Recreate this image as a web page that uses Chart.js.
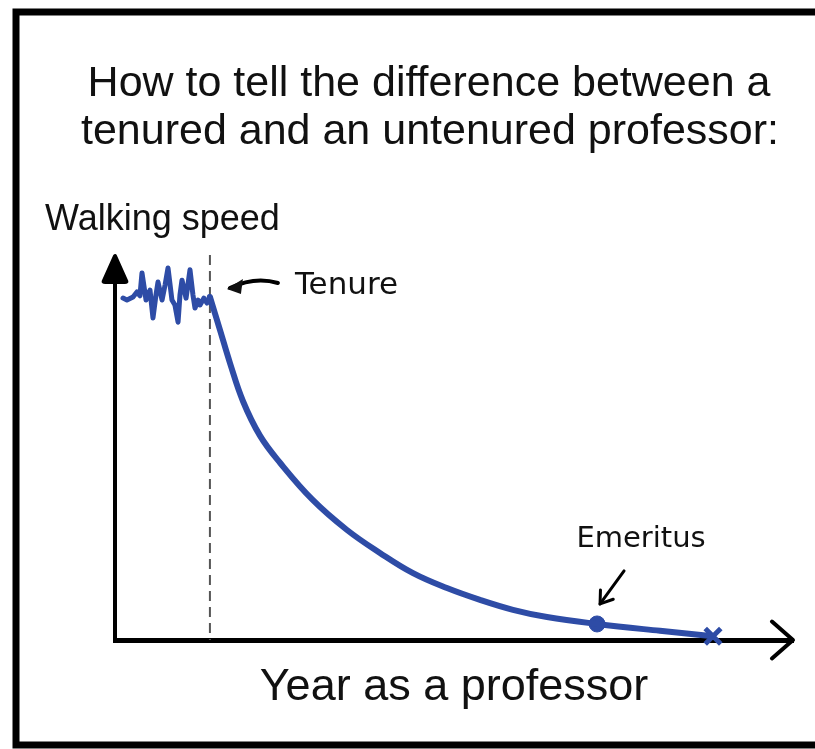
<!DOCTYPE html>
<html>
<head>
<meta charset="utf-8">
<title>Tenured vs untenured</title>
<script src="https://cdn.jsdelivr.net/npm/chart.js@4.4.1/dist/chart.umd.min.js"></script>
<style>
  html, body { margin: 0; padding: 0; background: #fff; }
  #wrap { width: 815px; height: 749px; position: relative; }
</style>
</head>
<body>
<div id="wrap"><canvas id="chart"></canvas></div>
<script>
// --- data (years, walking speed 0..10) ---
const tenureYear = 7;

const preTenureYears = [0.59, 0.88, 1.33, 1.62, 1.84, 1.99, 2.29, 2.58, 2.80, 3.02, 3.17, 3.47, 3.69, 3.91,
  4.20, 4.42, 4.65, 4.79, 4.94, 5.24, 5.53, 5.75, 5.90, 6.12, 6.27, 6.56, 6.78, 7.00];
const preTenureSpeed = [8.95, 8.90, 8.98, 9.11, 9.01, 9.61, 8.90, 9.16, 8.43, 9.03, 9.37, 8.90, 9.29, 9.74,
  8.90, 8.77, 8.32, 9.03, 9.42, 8.95, 9.69, 9.03, 8.69, 8.90, 8.77, 8.95, 8.82, 8.98];

const postTenureYears = [7.00, 7.74, 8.48, 9.44, 10.69, 12.17, 14.60, 17.11, 19.54, 21.98, 24.48, 26.92,
  29.35, 31.86, 35.55, 40.19, 44.10];
const postTenureSpeed = [8.98, 8.12, 7.25, 6.25, 5.35, 4.64, 3.66, 2.88, 2.28, 1.75, 1.36, 1.05,
  0.79, 0.60, 0.42, 0.24, 0.10];

const emeritusYear = 35.55;
const emeritusSpeed = 0.42;
const endYear = 44.10;
const endSpeed = 0.10;

const titleLines = ['How to tell the difference between a', 'tenured and an untenured professor:'];
const yLabel = 'Walking speed';
const xLabel = 'Year as a professor';

const blue = '#2e4ca6';

function toPoints(xs, ys) {
  return xs.map((x, i) => ({ x: x, y: ys[i] }));
}

function arrowHead(ctx, tipX, tipY, fromX, fromY, len, spread) {
  const ang = Math.atan2(tipY - fromY, tipX - fromX);
  ctx.beginPath();
  ctx.moveTo(tipX - len * Math.cos(ang - spread), tipY - len * Math.sin(ang - spread));
  ctx.lineTo(tipX, tipY);
  ctx.lineTo(tipX - len * Math.cos(ang + spread), tipY - len * Math.sin(ang + spread));
  ctx.stroke();
}

const decor = {
  id: 'decor',
  beforeDraw(chart) {
    const ctx = chart.ctx;
    ctx.save();
    ctx.fillStyle = '#fff';
    ctx.fillRect(0, 0, chart.width, chart.height);
    // comic frame (right edge cropped off)
    ctx.strokeStyle = '#000';
    ctx.lineWidth = 7;
    ctx.strokeRect(16, 12, 900, 733);
    ctx.restore();
  },
  beforeDatasetsDraw(chart) {
    const ctx = chart.ctx;
    const area = chart.chartArea;
    const xt = chart.scales.x.getPixelForValue(tenureYear);
    ctx.save();
    ctx.strokeStyle = '#555';
    ctx.lineWidth = 2;
    ctx.setLineDash([10, 6]);
    ctx.beginPath();
    ctx.moveTo(xt, area.top - 3);
    ctx.lineTo(xt, area.bottom);
    ctx.stroke();
    ctx.restore();
  },
  afterDraw(chart) {
    const ctx = chart.ctx;
    const area = chart.chartArea;
    const xs = chart.scales.x, ys = chart.scales.y;
    ctx.save();

    // axis arrows
    ctx.strokeStyle = '#000';
    ctx.fillStyle = '#000';
    ctx.lineWidth = 4;
    ctx.lineCap = 'round';
    ctx.lineJoin = 'round';
    ctx.beginPath();
    ctx.moveTo(area.left, area.top - 2);
    ctx.lineTo(area.left - 11, area.top + 26);
    ctx.lineTo(area.left + 11, area.top + 26);
    ctx.closePath();
    ctx.fill();
    arrowHead(ctx, area.left, area.top - 2, area.left, area.top + 40, 28, 0.42);
    arrowHead(ctx, area.right, area.bottom, area.left, area.bottom, 28, 0.72);

    // title
    ctx.fillStyle = '#111';
    ctx.textAlign = 'center';
    ctx.textBaseline = 'alphabetic';
    ctx.font = '43px "Liberation Sans", Arial, sans-serif';
    ctx.fillText(titleLines[0], 429, 96);
    ctx.fillText(titleLines[1], 430, 144);

    // axis labels
    ctx.font = '36px "Liberation Sans", Arial, sans-serif';
    ctx.textAlign = 'left';
    ctx.fillText(yLabel, 45, 230);
    ctx.font = '45px "Liberation Sans", Arial, sans-serif';
    ctx.textAlign = 'center';
    ctx.fillText(xLabel, (area.left + area.right) / 2, 700);

    // tenure note
    const xt = xs.getPixelForValue(tenureYear);
    ctx.font = '31px "DejaVu Sans", sans-serif';
    ctx.textAlign = 'left';
    ctx.fillText('Tenure', xt + 85, 294);
    ctx.lineWidth = 4;
    ctx.beginPath();
    ctx.moveTo(xt + 68, 283);
    ctx.quadraticCurveTo(xt + 45, 276, xt + 20, 288);
    ctx.stroke();
    ctx.beginPath();
    ctx.moveTo(xt + 17, 289);
    ctx.lineTo(xt + 33, 279);
    ctx.lineTo(xt + 31, 294);
    ctx.closePath();
    ctx.fill();

    // emeritus note
    const ex = xs.getPixelForValue(emeritusYear);
    const ey = ys.getPixelForValue(emeritusSpeed);
    ctx.font = '29px "DejaVu Sans", sans-serif';
    ctx.textAlign = 'center';
    ctx.fillText('Emeritus', ex + 44, ey - 77);
    ctx.lineWidth = 3;
    ctx.beginPath();
    ctx.moveTo(ex + 27, ey - 53);
    ctx.lineTo(ex + 3, ey - 20);
    ctx.stroke();
    arrowHead(ctx, ex + 3, ey - 20, ex + 27, ey - 53, 14, 0.6);

    ctx.restore();
  }
};

new Chart(document.getElementById('chart'), {
  type: 'scatter',
  data: {
    datasets: [
      {
        label: 'Before tenure',
        data: toPoints(preTenureYears, preTenureSpeed),
        showLine: true,
        borderColor: blue,
        borderWidth: 5,
        borderJoinStyle: 'round',
        borderCapStyle: 'round',
        pointRadius: 0,
        tension: 0,
        clip: false
      },
      {
        label: 'After tenure',
        data: toPoints(postTenureYears, postTenureSpeed),
        showLine: true,
        borderColor: blue,
        borderWidth: 6,
        borderJoinStyle: 'round',
        borderCapStyle: 'round',
        pointRadius: 0,
        tension: 0.4,
        clip: false
      },
      {
        label: 'Emeritus',
        data: [{ x: emeritusYear, y: emeritusSpeed }],
        backgroundColor: blue,
        borderColor: blue,
        pointRadius: 8,
        clip: false
      },
      {
        label: 'End',
        data: [{ x: endYear, y: endSpeed }],
        pointStyle: 'crossRot',
        borderColor: blue,
        borderWidth: 5,
        pointRadius: 11,
        clip: false
      }
    ]
  },
  options: {
    responsive: true,
    maintainAspectRatio: false,
    animation: false,
    layout: { padding: { left: 107, right: 22, top: 258, bottom: 101 } },
    plugins: {
      legend: { display: false },
      tooltip: { enabled: false }
    },
    scales: {
      x: {
        type: 'linear',
        min: 0,
        max: 50,
        grid: { display: false },
        ticks: { display: false },
        border: { display: true, color: '#000', width: 5 }
      },
      y: {
        min: 0,
        max: 10,
        grid: { display: false },
        ticks: { display: false },
        border: { display: true, color: '#000', width: 4 }
      }
    }
  },
  plugins: [decor]
});
</script>
</body>
</html>
